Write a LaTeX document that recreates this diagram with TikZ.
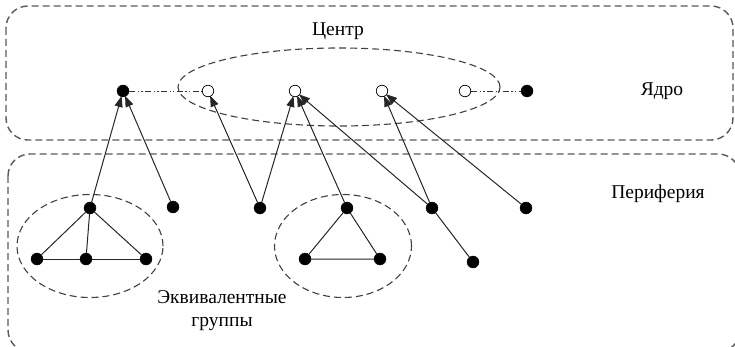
\documentclass[tikz,border=0pt]{standalone}
\usepackage{fontspec}
\setmainfont{Liberation Serif}
\usetikzlibrary{arrows.meta,shapes.geometric}
\begin{document}
\begin{tikzpicture}[x=1pt,y=-1pt,
  boxline/.style={draw=black!65,line width=1.4pt,dash pattern=on 7pt off 4pt,rounded corners=22pt},
  grpline/.style={draw=black!75,line width=1.1pt,dash pattern=on 7pt off 4pt},
  full/.style={circle,fill=black,draw=black,inner sep=0pt,minimum size=12pt},
  hollow/.style={circle,fill=white,draw=black,line width=0.7pt,inner sep=0pt,minimum size=11.5pt},
  edge/.style={draw=black!85,line width=1pt},
  arr/.style={edge,-{Triangle[length=11pt,width=8pt]},shorten >=-1pt},
  dd/.style={draw=black!80,line width=0.9pt,dash pattern=on 6pt off 2.5pt on 1.2pt off 2.5pt on 1.2pt off 2.5pt},
  lbl/.style={font=\fontsize{19.5}{23}\selectfont,align=center}]
\useasboundingbox (0,0) rectangle (735,347);
% boxes
\draw[boxline] (6,6) rectangle (733,140);
\draw[boxline] (8,154) rectangle (740,352);
% ellipses
\node[grpline,ellipse,minimum width=322pt,minimum height=78pt,inner sep=0pt] (ctr) at (339,87) {};
\node[grpline,ellipse,minimum width=146pt,minimum height=103pt,inner sep=0pt] (eq1) at (90,246) {};
\node[grpline,ellipse,minimum width=137pt,minimum height=103pt,inner sep=0pt] (eq2) at (343,246) {};
% labels
\node[lbl] (tc) at (338,31) {Центр};
\node[lbl] (ty) at (662,91) {Ядро};
\node[lbl] (tp) at (658,194) {Периферия};
\node[lbl] (tg) at (222,311) {Эквивалентные\\группы};
% core nodes
\node[full] (a) at (123,91) {};
\node[hollow] (b) at (208,91) {};
\node[hollow] (c) at (295,91) {};
\node[hollow] (d) at (382,91) {};
\node[hollow] (e) at (465,91) {};
\node[full] (f) at (527,91) {};
\draw[dd] (a) -- (b);
\draw[dd] (e) -- (f);
% periphery nodes
\node[full] (g1t) at (90,208) {};
\node[full] (g1l) at (37,259) {};
\node[full] (g1m) at (86,259) {};
\node[full] (g1r) at (146,259) {};
\node[full] (h) at (173,207) {};
\node[full] (i) at (260,208) {};
\node[full] (g2t) at (347,208) {};
\node[full] (g2l) at (305,259) {};
\node[full] (g2r) at (380,259) {};
\node[full] (j) at (432,208) {};
\node[full] (k) at (473,262) {};
\node[full] (l) at (526,208) {};
% group edges
\draw[edge] (g1t) -- (g1l);
\draw[edge] (g1t) -- (g1m);
\draw[edge] (g1t) -- (g1r);
\draw[edge] (g1l) -- (g1m) -- (g1r);
\draw[edge] (g2t) -- (g2l) -- (g2r) -- (g2t);
\draw[edge] (j) -- (k);
% arrows
\draw[arr] (g1t) -- (a);
\draw[arr] (h) -- (a);
\draw[arr] (i) -- (b);
\draw[arr] (i) -- (c);
\draw[arr] (g2t) -- (c);
\draw[arr] (j) -- (c);
\draw[arr] (j) -- (d);
\draw[arr] (l) -- (d);
\end{tikzpicture}
\end{document}
